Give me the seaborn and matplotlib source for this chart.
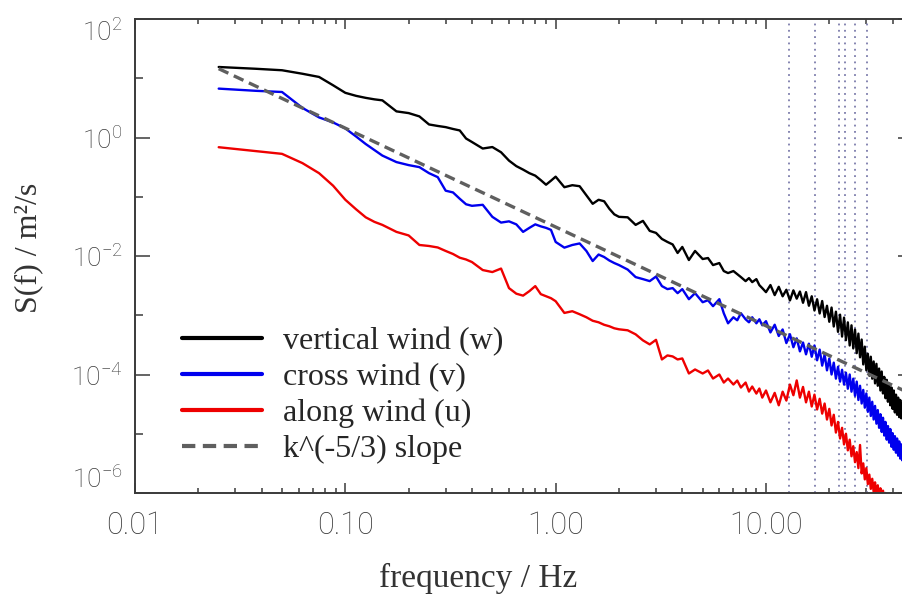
"""
wind_spectra.py
---------------
Power spectra of the three wind components on log-log axes,
with a k^(-5/3) reference slope and dotted marker frequencies.
"""

import numpy as np
import matplotlib
matplotlib.use("Agg")
import matplotlib.pyplot as plt
import matplotlib.ticker as mticker
import seaborn as sns

# frequency bins (Hz), shared by the three spectra
freq_hz = [
    0.025, 0.0375, 0.05, 0.0625, 0.075, 0.0875, 0.1, 0.1125, 0.125, 0.1375,
    0.15, 0.175, 0.2, 0.225, 0.25, 0.275, 0.3, 0.325, 0.35, 0.375,
    0.4, 0.45, 0.5, 0.55, 0.6, 0.65, 0.7, 0.75, 0.8, 0.85, 0.9, 0.95, 1.0,
    1.1, 1.2, 1.3, 1.4, 1.5, 1.6, 1.7, 1.8, 1.9, 2.0,
    2.2, 2.4, 2.6, 2.8, 3.0, 3.2, 3.4, 3.6, 3.8, 4.0,
    4.3, 4.6, 5.0, 5.3, 5.6, 6.0, 6.3, 6.6, 7.0, 7.3, 7.6, 8.0,
    8.3, 8.6, 9.0, 9.3, 9.6,
    10.0, 10.5, 11.0, 11.5, 12.0, 12.5, 13.0, 13.5, 14.0, 14.5,
    15.0, 15.5, 16.0, 16.5, 17.0, 17.5, 18.0, 18.5, 19.0, 19.5,
    20.0, 20.5, 21.0, 21.5, 22.0, 22.5, 23.0, 23.5, 24.0, 24.5,
    25.0, 25.5, 26.0, 26.5, 27.0, 27.5, 28.0, 28.5, 29.0, 29.5,
    30.0, 30.5, 31.0, 31.5, 32.0, 32.5, 33.0, 33.5, 34.0, 34.5,
    35.0, 35.5, 36.0, 36.5, 37.0, 37.5, 38.0, 38.5, 39.0, 39.5,
    40.0, 40.5, 41.0, 41.5, 42.0, 42.5, 43.0, 43.5, 44.0, 44.5, 45.0,
]

# spectral density, as log10 of S(f) in m^2/s
w_log10 = [
    1.19, 1.16, 1.135, 1.076, 1.022, 0.881, 0.754, 0.703, 0.669, 0.644,
    0.627, 0.441, 0.412, 0.356, 0.22, 0.195, 0.175, 0.144, 0.119, -0.017,
    -0.076, -0.186, -0.161, -0.249, -0.39, -0.483, -0.542, -0.602, -0.644, -0.72,
    -0.797, -0.729, -0.661,
    -0.839, -0.805, -0.822, -0.975, -1.119, -1.051, -1.076, -1.203, -1.297, -1.339,
    -1.347, -1.475, -1.407, -1.576, -1.61, -1.712, -1.763, -1.805, -1.949, -1.847,
    -2.068, -1.915, -2.051, -2.034, -2.153, -2.119, -2.254, -2.288, -2.254, -2.305,
    -2.356, -2.424, -2.373, -2.441, -2.39, -2.492, -2.542,
    -2.61, -2.49, -2.66, -2.52, -2.68, -2.57, -2.75, -2.58, -2.72, -2.60,
    -2.79, -2.61, -2.84, -2.68, -2.92, -2.73, -2.97, -2.76, -3.03, -2.84,
    -3.11, -2.87, -3.19, -2.94, -3.28, -2.99, -3.36, -3.04, -3.42, -3.12,
    -3.51, -3.17, -3.56, -3.24, -3.64, -3.31, -3.71, -3.41, -3.83, -3.53,
    -3.93, -3.65, -4.02, -3.70, -4.07, -3.78, -4.15, -3.82, -4.19, -3.90,
    -4.27, -3.95, -4.32, -4.04, -4.40, -4.09, -4.46, -4.16, -4.52, -4.22,
    -4.58, -4.27, -4.64, -4.34, -4.68, -4.39, -4.72, -4.43, -4.74, -4.48, -4.77,
]

v_log10 = [
    0.825, 0.788, 0.768, 0.5, 0.339, 0.254, 0.153, 0.017, -0.11, -0.212,
    -0.305, -0.415, -0.466, -0.5, -0.602, -0.669, -0.898, -0.927, -1.034, -1.127,
    -1.153, -1.136, -1.339, -1.436, -1.415, -1.466, -1.593, -1.525, -1.466, -1.5,
    -1.525, -1.559, -1.763,
    -1.859, -1.814, -1.788, -1.915, -2.085, -1.975, -2.017, -2.076, -2.119, -2.153,
    -2.229, -2.356, -2.39, -2.424, -2.347, -2.508, -2.559, -2.542, -2.627, -2.559,
    -2.729, -2.627, -2.78, -2.746, -2.847, -2.729, -2.966, -3.136, -3.034, -3.085,
    -2.966, -3.068, -3.119, -3.034, -3.136, -3.068, -3.169,
    -3.10, -3.29, -3.16, -3.35, -3.24, -3.47, -3.32, -3.54, -3.39, -3.61,
    -3.46, -3.66, -3.48, -3.70, -3.51, -3.76, -3.58, -3.85, -3.66, -3.93,
    -3.73, -4.00, -3.80, -4.07, -3.87, -4.12, -3.92, -4.17, -3.97, -4.24,
    -4.00, -4.29, -4.07, -4.36, -4.12, -4.43, -4.19, -4.49, -4.26, -4.56,
    -4.32, -4.63, -4.39, -4.70, -4.46, -4.76, -4.53, -4.83, -4.60, -4.90,
    -4.67, -4.97, -4.73, -5.03, -4.80, -5.10, -4.87, -5.15, -4.92, -5.22,
    -4.99, -5.27, -5.04, -5.32, -5.08, -5.37, -5.13, -5.42, -5.18, -5.45, -5.23,
]

u_log10 = [
    -0.164, -0.229, -0.276, -0.432, -0.602, -0.814, -1.051, -1.212, -1.347, -1.424,
    -1.475, -1.593, -1.653, -1.814, -1.831, -1.856, -1.915, -1.966, -2.029, -2.059,
    -2.102, -2.237, -2.271, -2.212, -2.542, -2.636, -2.669, -2.593, -2.508, -2.644,
    -2.678, -2.712, -2.763,
    -2.961, -2.932, -2.983, -3.034, -3.093, -3.119, -3.161, -3.186, -3.22, -3.237,
    -3.254, -3.322, -3.424, -3.492, -3.415, -3.746, -3.678, -3.695, -3.746, -3.729,
    -3.983, -3.915, -3.983, -3.932, -4.068, -4.0, -4.136, -4.068, -4.169, -4.102,
    -4.22, -4.136, -4.288, -4.203, -4.322, -4.237, -4.39,
    -4.27, -4.47, -4.31, -4.52, -4.29, -4.44, -4.17, -4.35, -4.10, -4.39,
    -4.21, -4.47, -4.29, -4.54, -4.34, -4.59, -4.41, -4.66, -4.49, -4.76,
    -4.58, -4.86, -4.68, -4.98, -4.80, -5.08, -4.90, -5.18, -5.00, -5.28,
    -5.10, -5.38, -5.21, -5.48, -5.31, -5.58, -5.19, -5.67, -5.50, -5.77,
    -5.58, -5.85, -5.69, -5.93, -5.76, -5.98, -5.82, -6.05, -5.87, -6.10,
    -5.92, -6.15, -5.96, -6.19, -6.00, -6.22, -6.03, -6.25, -6.07, -6.29,
    -6.10, -6.32, -6.14, -6.36, -6.17, -6.39, -6.20, -6.42, -6.24, -6.46, -6.27,
]

series_labels = ["vertical wind (w)", "cross wind (v)", "along wind (u)"]
series_colors = ["#000000", "#0000ee", "#ee0000"]

# k^(-5/3) reference line, end points
slope_label = "k^(-5/3) slope"
slope_f = [0.025, 45.0]
slope_s = [14.5, 5.4e-5]

# dotted marker frequencies (Hz)
marker_f = [12.8, 17.1, 22.3, 23.7, 26.4, 30.2]

x_ticks = [0.01, 0.1, 1.0, 10.0]
x_tick_labels = ["0.01", "0.10", "1.00", "10.00"]
y_ticks = [1e-6, 1e-4, 1e-2, 1e0, 1e2]
y_tick_labels = [r"$10^{-6}$", r"$10^{-4}$", r"$10^{-2}$", r"$10^{0}$", r"$10^{2}$"]
y_minor_ticks = [1e-5, 1e-3, 1e-1, 1e1]

SERIF = ["Liberation Serif", "DejaVu Serif"]
AXIS_GREY = "#3a3a3a"
LABEL_GREY = "#383838"

sns.set_theme(style="white")
plt.rcParams["font.family"] = ["Roboto", "DejaVu Sans"]
plt.rcParams["font.weight"] = "light"
plt.rcParams["mathtext.fontset"] = "custom"
plt.rcParams["mathtext.rm"] = "Roboto:weight=light"
plt.rcParams["mathtext.it"] = "Roboto:italic:weight=light"
plt.rcParams["mathtext.bf"] = "Roboto:weight=bold"


def draw_spectra():
    fig = plt.figure(figsize=(9.02, 5.98), dpi=100)
    ax = fig.add_axes([135 / 902, 105 / 598, 778 / 902, 474 / 598])
    ax.set_xscale("log")
    ax.set_yscale("log")

    for f in marker_f:
        ax.axvline(f, color="#7c7cab", linewidth=1.3, linestyle=(0, (1, 2.5)), zorder=1)

    for vals, color, label in zip([w_log10, v_log10, u_log10], series_colors, series_labels):
        sns.lineplot(x=freq_hz, y=np.power(10.0, vals), ax=ax, color=color, linewidth=1.7,
                     estimator=None, sort=False, label=label, zorder=2)

    sns.lineplot(x=slope_f, y=slope_s, ax=ax, color="#5f5f5f", linewidth=2.4,
                 estimator=None, sort=False, label=slope_label, zorder=3)
    ax.lines[-1].set_dashes((3.2, 1.8))

    ax.set_xlim(0.01, 50)
    ax.set_ylim(1e-6, 1e2)

    ax.xaxis.set_major_locator(mticker.FixedLocator(x_ticks))
    ax.xaxis.set_major_formatter(mticker.FixedFormatter(x_tick_labels))
    ax.xaxis.set_minor_locator(mticker.LogLocator(base=10, subs=range(2, 10)))
    ax.xaxis.set_minor_formatter(mticker.NullFormatter())
    ax.yaxis.set_major_locator(mticker.FixedLocator(y_ticks))
    ax.yaxis.set_major_formatter(mticker.FixedFormatter(y_tick_labels))
    ax.yaxis.set_minor_locator(mticker.FixedLocator(y_minor_ticks))
    ax.yaxis.set_minor_formatter(mticker.NullFormatter())

    ax.tick_params(axis="x", which="major", direction="in", length=7.2, width=1.1,
                   top=True, bottom=True, pad=13, labelsize=22, colors=AXIS_GREY,
                   labelcolor=LABEL_GREY)
    ax.tick_params(axis="x", which="minor", direction="in", length=3.6, width=1.1,
                   top=True, bottom=True, colors=AXIS_GREY)
    ax.tick_params(axis="y", which="major", direction="in", length=10.8, width=1.1,
                   left=True, right=True, pad=9, labelsize=19, colors=AXIS_GREY,
                   labelcolor=LABEL_GREY)
    ax.tick_params(axis="y", which="minor", direction="in", length=5.8, width=1.1,
                   left=True, right=True, colors=AXIS_GREY)

    # IDL-style: end labels pulled inside the axis range
    yt = ax.yaxis.get_major_ticks()
    yt[0].label1.set_verticalalignment("bottom")
    yt[-1].label1.set_verticalalignment("top")

    for side in ["left", "bottom", "top"]:
        ax.spines[side].set_color(AXIS_GREY)
        ax.spines[side].set_linewidth(1.4)
    ax.spines["right"].set_visible(False)

    ax.set_xlabel("frequency / Hz", family=SERIF, fontsize=24, color="#333333",
                  fontweight="normal")
    ax.xaxis.set_label_coords(0.441, -0.148)
    ax.set_ylabel("S(f) / m²/s", family=SERIF, fontsize=23, color="#333333",
                  fontweight="normal")
    ax.yaxis.set_label_coords(-0.118, 0.517)

    leg = ax.legend(loc="lower left", bbox_to_anchor=(0.0604, 0.061), frameon=False,
                    prop={"family": SERIF, "size": 23, "weight": "normal"},
                    handlelength=2.5, handletextpad=0.65, labelspacing=0.21,
                    borderpad=0, borderaxespad=0)
    for h in leg.legend_handles:
        h.set_linewidth(3.0)

    fig.savefig("out.png", dpi=100, facecolor="white")
    plt.close(fig)


if __name__ == "__main__":
    draw_spectra()
